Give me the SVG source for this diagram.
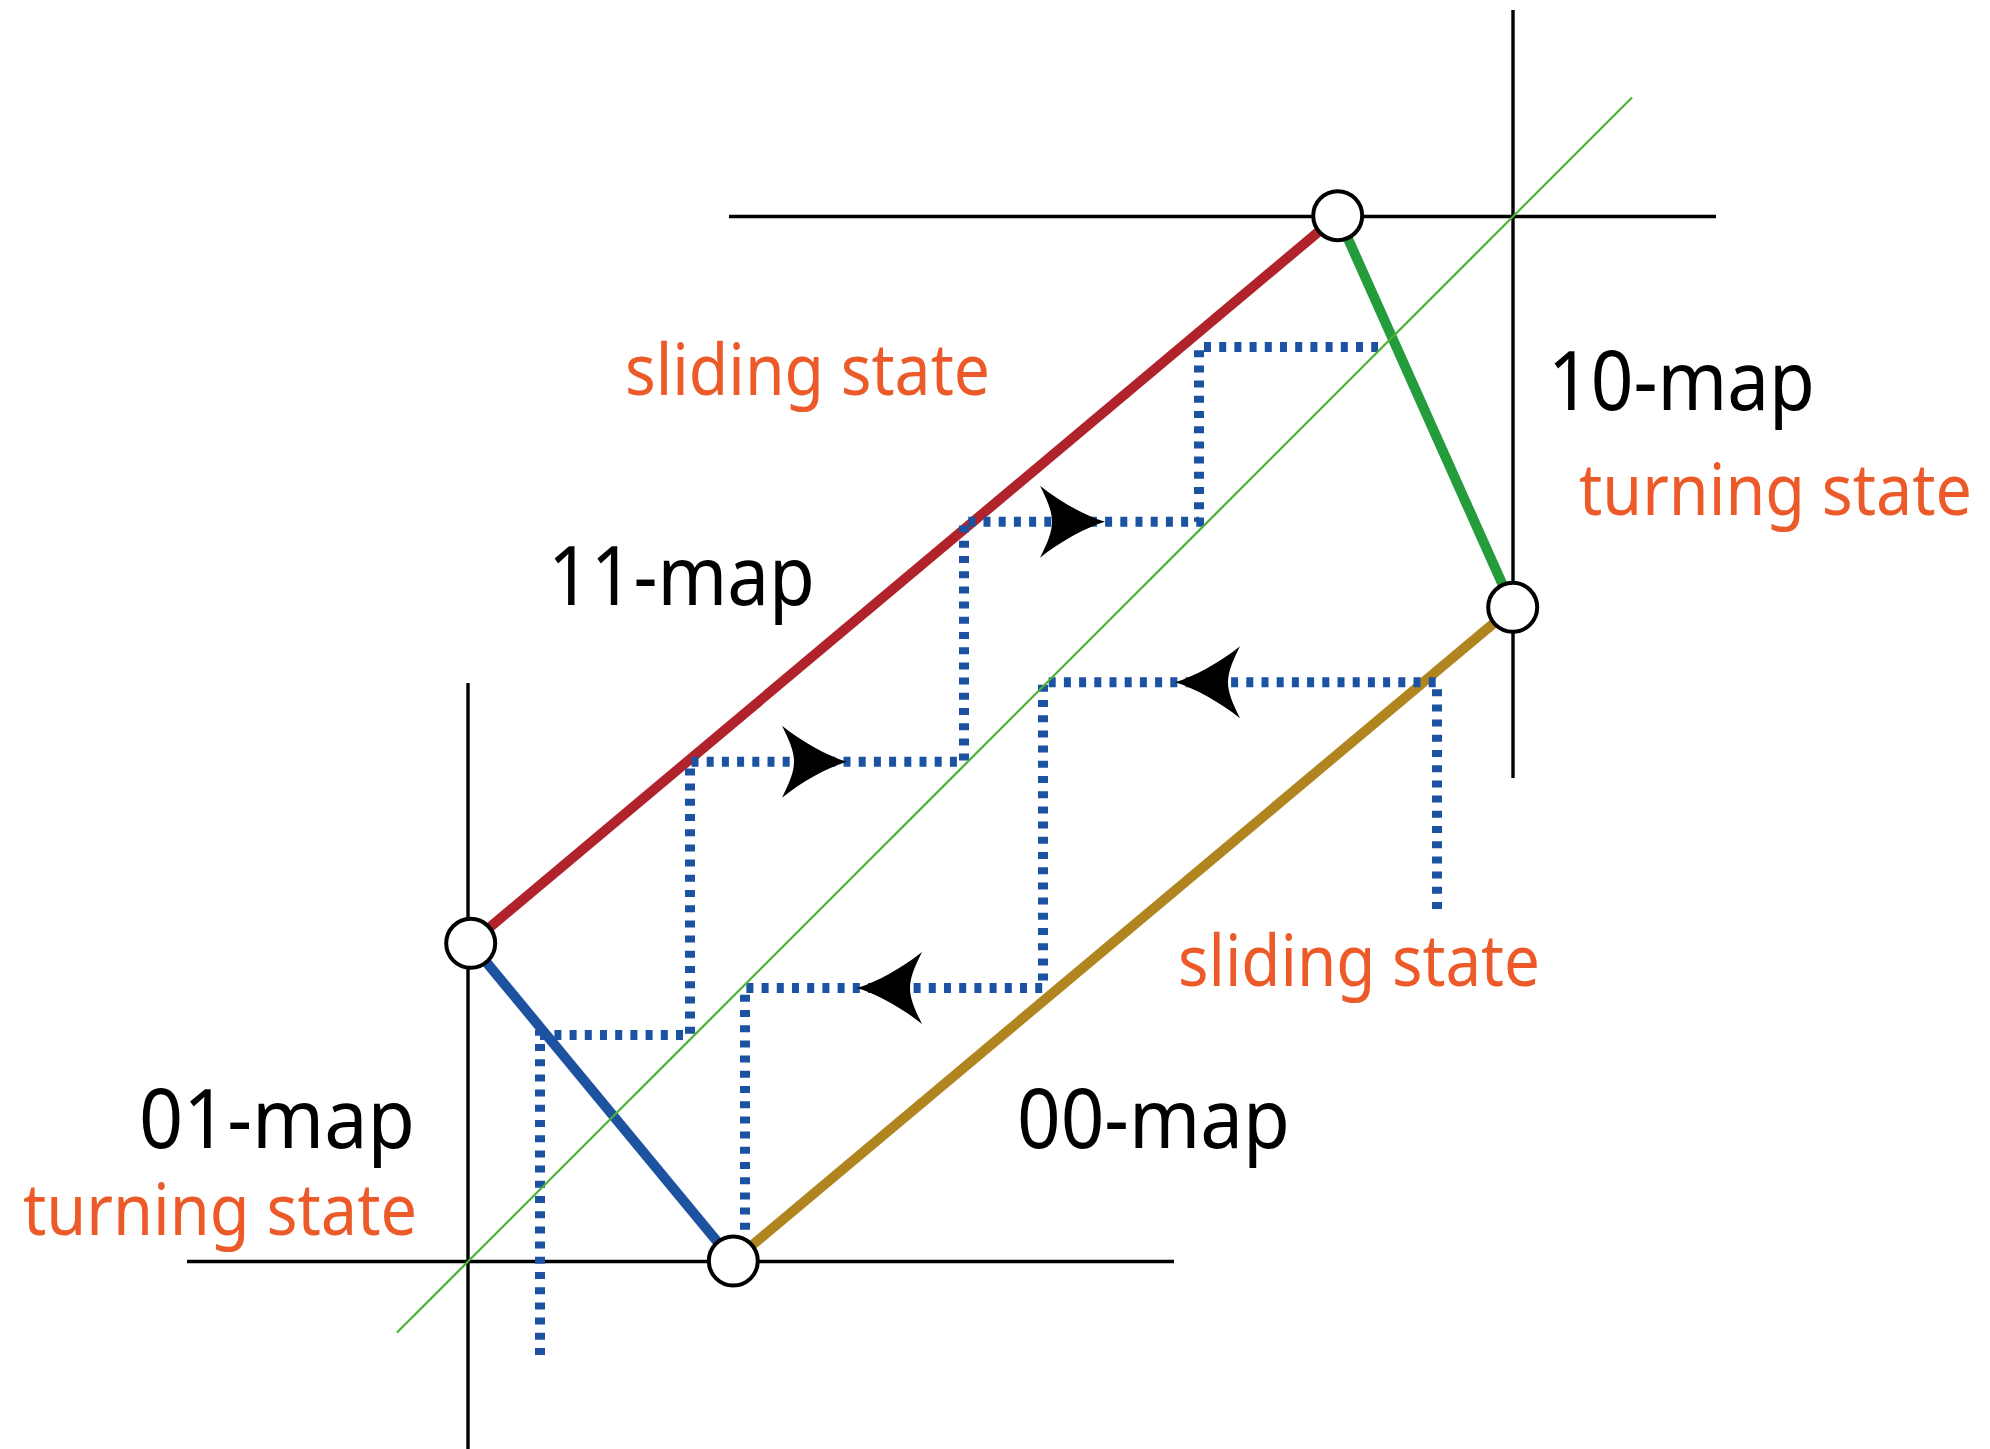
<svg xmlns="http://www.w3.org/2000/svg" xmlns:xlink="http://www.w3.org/1999/xlink" width="1990" height="1449" viewBox="0 0 1990 1449">
  <style>
    .axis { stroke: #000; stroke-width: 3.4; fill: none; }
    .diag { stroke: #4cb135; stroke-width: 2.2; fill: none; }
    .thick { stroke-width: 10; fill: none; stroke-linecap: butt; }
    .dots { stroke: #1b52a1; stroke-width: 10; fill: none; stroke-dasharray: 7 8.2; }
    .node { fill: #fff; stroke: #000; stroke-width: 4; }
    .lbl { font-family: "Noto Sans", "Open Sans", sans-serif; font-size: 82px; fill: #000; }
    .st { font-family: "Noto Sans", "Open Sans", sans-serif; font-size: 72px; fill: #ec5a29; }
  </style>
  <defs>
    <path id="arrow" d="M0,0 C-20,-6 -45,-20 -65,-36 C-57,-20 -53,-10 -53,0 C-53,10 -57,20 -65,36 C-45,20 -20,6 0,0 Z" fill="#000"/>
  </defs>
  <rect width="1990" height="1449" fill="#fff"/>

  <g id="axes">
    <line class="axis" x1="729" y1="216.5" x2="1716" y2="216.5"/>
    <line class="axis" x1="1513" y1="10" x2="1513" y2="778"/>
    <line class="axis" x1="187" y1="1261.5" x2="1174" y2="1261.5"/>
    <line class="axis" x1="468" y1="683" x2="468" y2="1449"/>
  </g>

  <g id="connectors">
    <line class="thick" stroke="#b0232a" x1="470.7" y1="943.3" x2="1337.7" y2="215.7"/>
    <line class="thick" stroke="#249c3c" x1="1337.7" y1="215.7" x2="1512.7" y2="607.3"/>
    <line class="thick" stroke="#1d52a0" x1="470.7" y1="943.3" x2="733.3" y2="1261"/>
    <line class="thick" stroke="#b0851f" x1="733.3" y1="1261" x2="1512.7" y2="607.3"/>
    <path class="dots" d="M540,1355 V1035 H690 V761.7 H964 V521.7 H1199 V347 H1378"/>
    <path class="dots" d="M1437,909 V682.3 H1043 V988 H745 V1237"/>
    <line class="diag" x1="397" y1="1332.5" x2="1632" y2="97.5"/>
    <use xlink:href="#arrow" transform="translate(1105,521.7)"/>
    <use xlink:href="#arrow" transform="translate(847,761.7)"/>
    <use xlink:href="#arrow" transform="translate(1175,682.3) scale(-1,1)"/>
    <use xlink:href="#arrow" transform="translate(857,988) scale(-1,1)"/>
  </g>

  <g id="node-top"><circle class="node" cx="1337.7" cy="215.7" r="24.5"/></g>
  <g id="node-right"><circle class="node" cx="1512.7" cy="607.3" r="24.5"/></g>
  <g id="node-left"><circle class="node" cx="470.7" cy="943.3" r="24.5"/></g>
  <g id="node-bottom"><circle class="node" cx="733.3" cy="1261" r="24.5"/></g>

  <g id="labels">
    <text class="st" x="625" y="395" textLength="365" lengthAdjust="spacingAndGlyphs">sliding state</text>
    <text class="lbl" x="1548" y="410" textLength="267" lengthAdjust="spacingAndGlyphs">10-map</text>
    <text class="st" x="1579" y="515" textLength="393" lengthAdjust="spacingAndGlyphs">turning state</text>
    <text class="lbl" x="548" y="605" textLength="267" lengthAdjust="spacingAndGlyphs">11-map</text>
    <text class="st" x="1178" y="985.7" textLength="362" lengthAdjust="spacingAndGlyphs">sliding state</text>
    <text class="lbl" x="1017" y="1148" textLength="273" lengthAdjust="spacingAndGlyphs">00-map</text>
    <text class="lbl" x="139" y="1148" textLength="276" lengthAdjust="spacingAndGlyphs">01-map</text>
    <text class="st" x="23" y="1235" textLength="394" lengthAdjust="spacingAndGlyphs">turning state</text>
  </g>
</svg>
